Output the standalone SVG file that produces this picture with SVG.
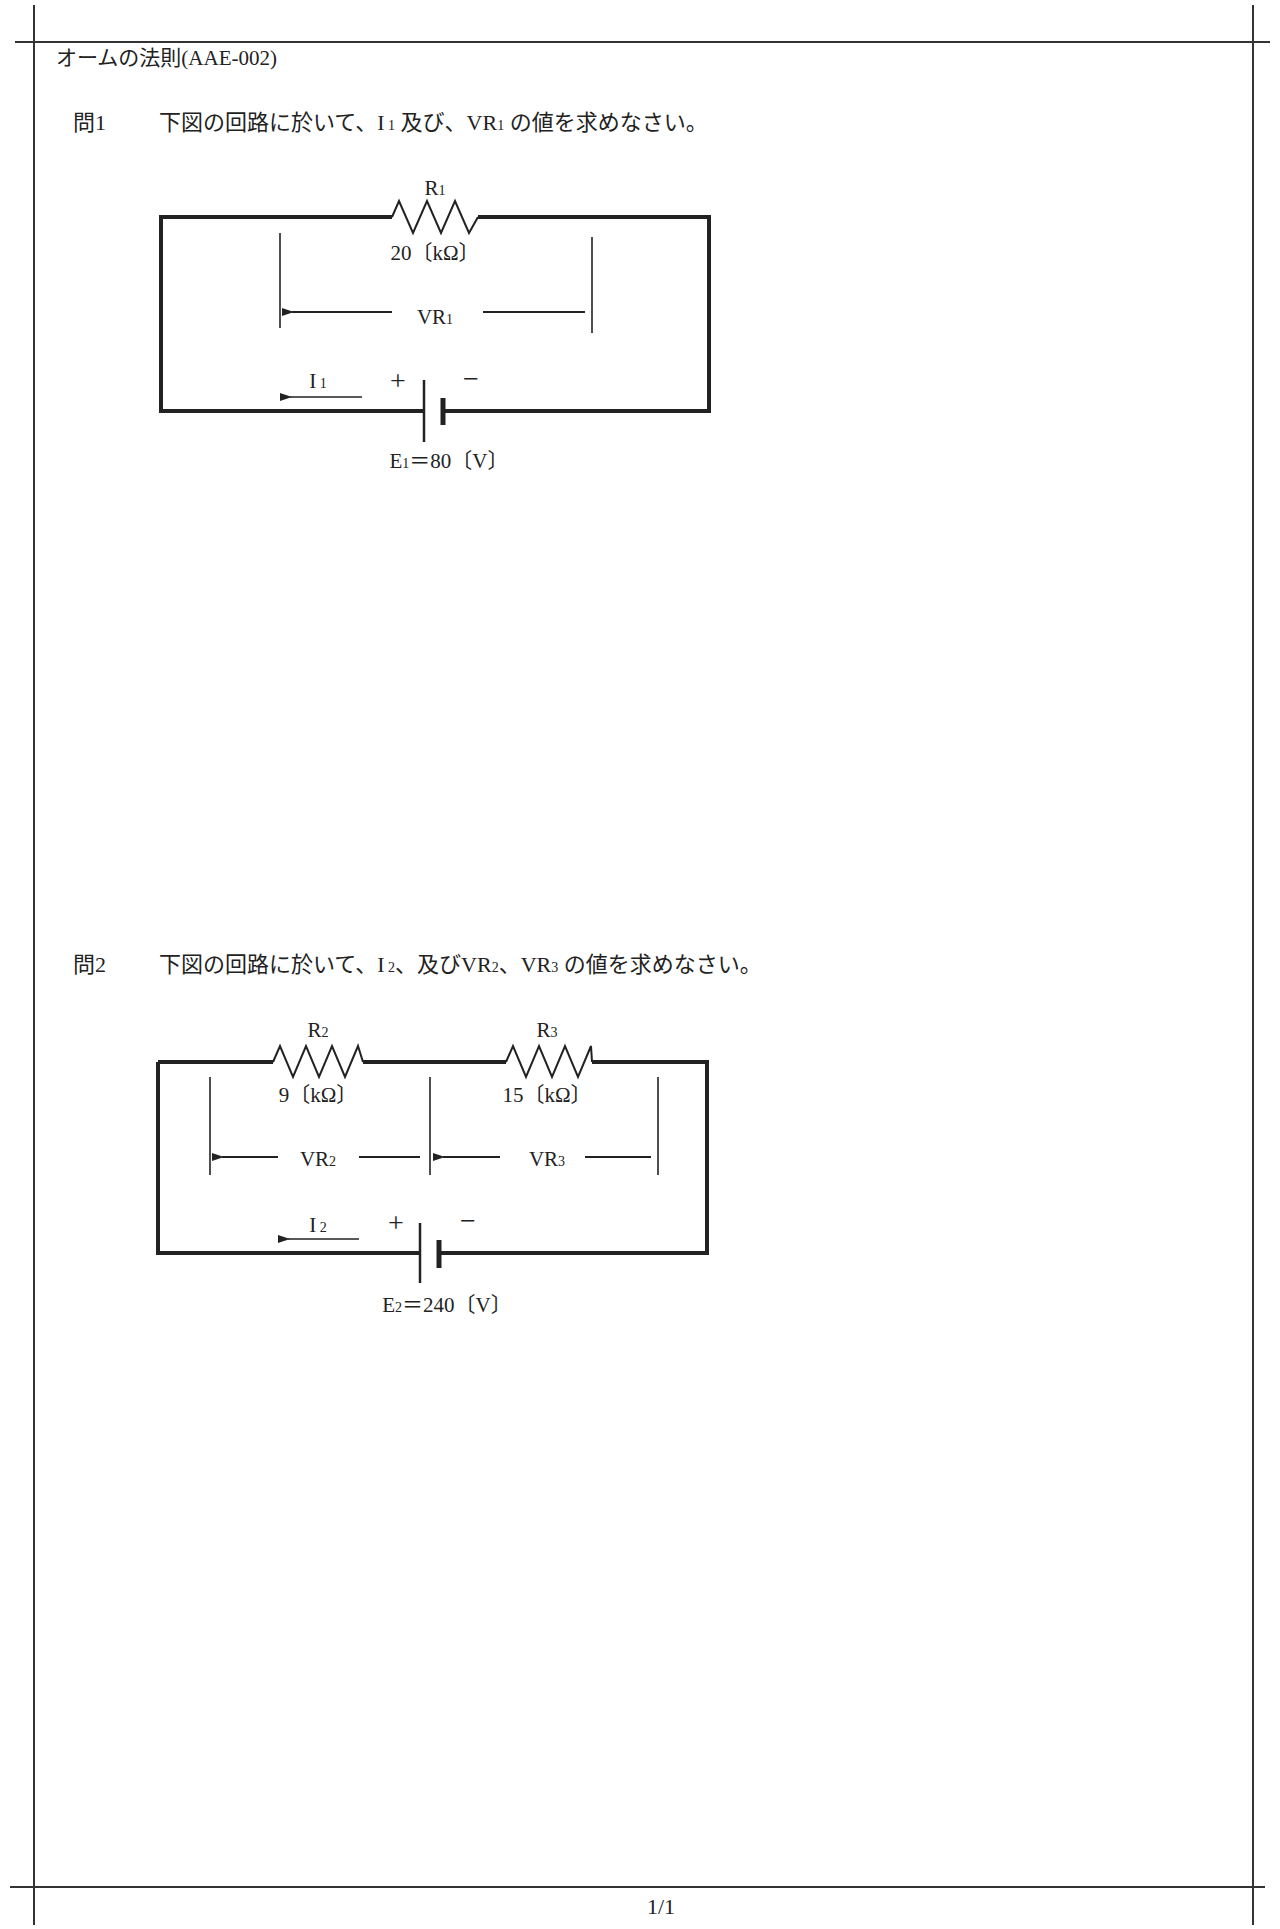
<svg xmlns="http://www.w3.org/2000/svg" width="1280" height="1929" viewBox="0 0 1280 1929">
<style>
text{font-family:"Liberation Serif","Noto Sans CJK JP",serif;fill:#222}
.t{font-size:22px}
.l{font-size:21px}
.pm{font-size:28px}
.c{text-anchor:middle}
.s{font-size:14px}
.wire{stroke:#222;stroke-width:4;fill:none}
.thin{stroke:#222;stroke-width:1.6;fill:none}
.mid{stroke:#222;stroke-width:2;fill:none}
.frame{stroke:#333;stroke-width:2;fill:none}
</style>
<defs>
<marker id="ah" markerWidth="12" markerHeight="8" refX="2" refY="4" orient="auto" markerUnits="userSpaceOnUse"><path d="M12,0 L0,4 L12,8 Z" fill="#222"/></marker>
</defs>
<rect width="1280" height="1929" fill="#fff"/>
<g id="frame">
<line class="frame" x1="34" y1="5" x2="34" y2="1925"/>
<line class="frame" x1="1253" y1="5" x2="1253" y2="1925"/>
<line class="frame" x1="15" y1="42" x2="1270" y2="42" stroke-width="2.5"/>
<line class="frame" x1="10" y1="1887" x2="1265" y2="1887" stroke-width="2.5"/>
<text x="661" y="1914" class="t c">1/1</text>
</g>
<g id="title"><text x="56" y="65" class="l">オームの法則(AAE-002)</text></g>
<g id="q1"><text x="73" y="130" class="t">問1</text><text x="159" y="130" class="t">下図の回路に於いて、I<tspan class="s"> 1</tspan> 及び、VR<tspan class="s">1</tspan> の値を求めなさい。</text></g>
<g id="q2"><text x="73" y="972" class="t">問2</text><text x="159" y="972" class="t">下図の回路に於いて、I<tspan class="s"> 2</tspan>、及びVR<tspan class="s">2</tspan>、VR<tspan class="s">3</tspan>  の値を求めなさい。</text></g>
<g id="connectors">
<path class="wire" d="M392,217 H161 V411 H424 M443,411 H709 V217 H478"/>
<path class="wire" d="M158,1062 V1253 H420 M439,1253 H707 V1062 H592 M506,1062 H363 M273,1062 H158"/>
<line class="thin" x1="280" y1="233" x2="280" y2="328"/>
<line class="thin" x1="592" y1="237" x2="592" y2="333"/>
<line class="mid" x1="392" y1="312" x2="292" y2="312" marker-end="url(#ah)"/>
<line class="mid" x1="483" y1="312" x2="585" y2="312"/>
<line class="thin" x1="362" y1="397" x2="290" y2="397" marker-end="url(#ah)"/>
<line class="thin" x1="210" y1="1077" x2="210" y2="1175"/>
<line class="thin" x1="430" y1="1077" x2="430" y2="1175"/>
<line class="thin" x1="658" y1="1077" x2="658" y2="1175"/>
<line class="mid" x1="278" y1="1157" x2="222" y2="1157" marker-end="url(#ah)"/>
<line class="mid" x1="359" y1="1157" x2="420" y2="1157"/>
<line class="mid" x1="500" y1="1157" x2="443" y2="1157" marker-end="url(#ah)"/>
<line class="mid" x1="585" y1="1157" x2="651" y2="1157"/>
<line class="thin" x1="359" y1="1239" x2="288" y2="1239" marker-end="url(#ah)"/>
</g>
<g id="R1">
<polyline class="mid" points="392,217 399,201 413,233 427,201 441,233 455,201 469,233 478,217"/>
<text x="435" y="195" class="l c">R<tspan class="s">1</tspan></text>
<text x="435" y="260" class="l c">20〔kΩ〕</text>
</g>
<g id="VR1"><text x="435" y="324" class="l c">VR<tspan class="s">1</tspan></text></g>
<g id="I1"><text x="318" y="388" class="l c">I<tspan class="s"> 1</tspan></text></g>
<g id="E1">
<line x1="424" y1="380" x2="424" y2="442" stroke="#222" stroke-width="2.5"/>
<line x1="443" y1="398" x2="443" y2="425" stroke="#222" stroke-width="5"/>
<text x="398" y="390" class="pm c">+</text><text x="471" y="388" class="pm c">−</text>
<text x="449" y="468" class="l c">E<tspan class="s">1</tspan>＝80〔V〕</text>
</g>
<g id="R2">
<polyline class="mid" points="273,1062 280,1046 293,1077 306,1046 319,1077 332,1046 345,1077 358,1046 363,1062"/>
<text x="318" y="1037" class="l c">R<tspan class="s">2</tspan></text>
<text x="318" y="1102" class="l c">9〔kΩ〕</text>
</g>
<g id="R3">
<polyline class="mid" points="506,1062 513,1046 526,1077 539,1046 552,1077 565,1046 578,1077 591,1046 592,1062"/>
<text x="547" y="1037" class="l c">R<tspan class="s">3</tspan></text>
<text x="547" y="1102" class="l c">15〔kΩ〕</text>
</g>
<g id="VR2"><text x="318" y="1166" class="l c">VR<tspan class="s">2</tspan></text></g>
<g id="VR3"><text x="547" y="1166" class="l c">VR<tspan class="s">3</tspan></text></g>
<g id="I2"><text x="318" y="1232" class="l c">I<tspan class="s"> 2</tspan></text></g>
<g id="E2">
<line x1="420" y1="1223" x2="420" y2="1283" stroke="#222" stroke-width="2.5"/>
<line x1="439" y1="1240" x2="439" y2="1268" stroke="#222" stroke-width="5"/>
<text x="396" y="1232" class="pm c">+</text><text x="468" y="1230" class="pm c">−</text>
<text x="447" y="1312" class="l c">E<tspan class="s">2</tspan>＝240〔V〕</text>
</g>
</svg>
